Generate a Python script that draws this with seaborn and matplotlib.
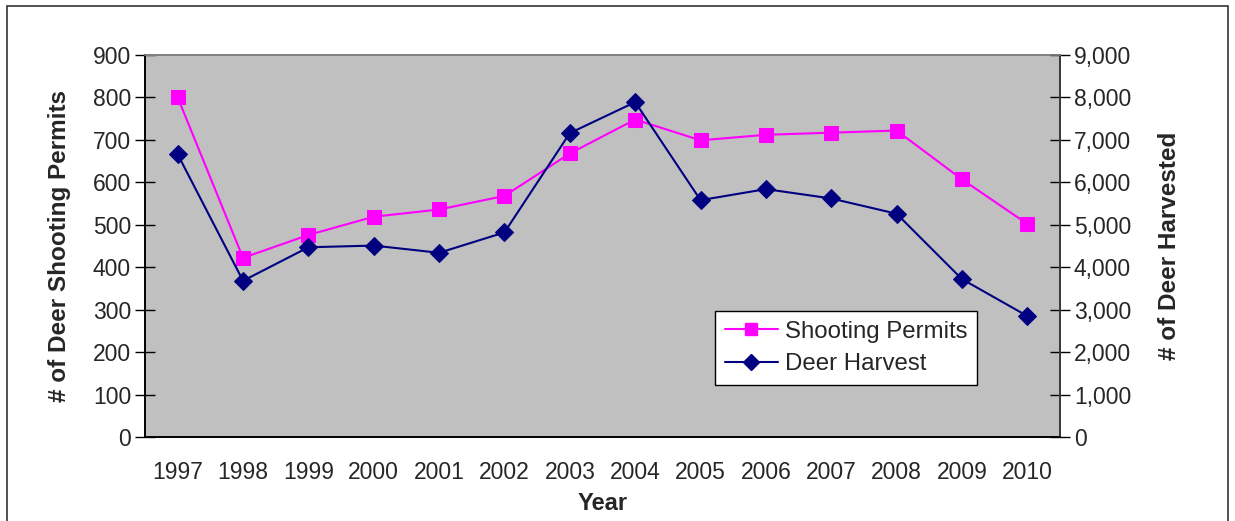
import matplotlib
matplotlib.use("Agg")
import matplotlib.pyplot as plt
import seaborn as sns
import pandas as pd
import numpy as np
from matplotlib.patches import Rectangle
from matplotlib.lines import Line2D
from matplotlib.ticker import FuncFormatter, FixedLocator

years = ["1997", "1998", "1999", "2000", "2001", "2002", "2003",
         "2004", "2005", "2006", "2007", "2008", "2009", "2010"]
shooting_permits = [800, 422, 476, 519, 536, 568, 668, 748, 699, 712, 717, 722, 607, 502]
deer_harvest = [6660, 3680, 4470, 4510, 4340, 4820, 7160, 7890, 5580, 5840, 5620, 5260, 3720, 2850]

sns.set_style("white")
plt.rcParams["font.family"] = ["Liberation Sans", "DejaVu Sans"]

df = pd.DataFrame({"pos": np.arange(len(years)), "year": years,
                   "permits": shooting_permits, "harvest": deer_harvest})

fig = plt.figure(figsize=(12.35, 5.21), dpi=100)
ax = fig.add_axes([145/1235, 84/521, 915/1235, 382/521])
ax.set_facecolor("#C0C0C0")

sns.lineplot(data=df, x="pos", y="permits", ax=ax, color="#FF00FF", marker="s",
             markersize=10, markeredgecolor="#FF00FF", linewidth=1.5)
ax2 = ax.twinx()
sns.lineplot(data=df, x="pos", y="harvest", ax=ax2, color="#000080", marker="D",
             markersize=9, markeredgecolor="#000080", linewidth=1.5)

ax.set_xlim(-0.5, len(years) - 0.5)
ax.set_ylim(0, 900)
ax2.set_ylim(0, 9000)
ax.set_yticks(np.arange(0, 901, 100))
ax2.set_yticks(np.arange(0, 9001, 1000))
ax2.yaxis.set_major_formatter(FuncFormatter(lambda v, p: f"{int(v):,}"))

ax.set_xticks(np.arange(len(years)))
ax.set_xticklabels(years)
ax.xaxis.set_minor_locator(FixedLocator(np.arange(-0.5, len(years), 1.0)))
ax.tick_params(axis="x", which="major", length=0, pad=17, labelsize=16.5)
ax.tick_params(axis="x", which="minor", direction="inout", length=14, width=1, color="black")
ax.tick_params(axis="y", direction="inout", length=14, width=1, color="black", labelsize=16.5, pad=3,
               left=True)
ax2.tick_params(axis="y", direction="inout", length=14, width=1, color="black", labelsize=16.5, pad=3,
                right=True)

for a in (ax, ax2):
    for s in a.spines.values():
        s.set_visible(True)
        s.set_linewidth(1.2)
        s.set_color("black")
    a.spines["top"].set_color("#808080")
ax2.spines["right"].set_color("#404040")
ax2.patch.set_visible(False)

ax.set_xlabel("Year", fontsize=17, fontweight="bold", labelpad=6)
ax.set_ylabel("# of Deer Shooting Permits", fontsize=17.5, fontweight="bold", labelpad=16)
ax2.set_ylabel("# of Deer Harvested", fontsize=17.5, fontweight="bold", labelpad=19)
ax.grid(False)
ax2.grid(False)

handles = [Line2D([], [], color="#FF00FF", marker="s", markersize=9, linewidth=1.5),
           Line2D([], [], color="#000080", marker="D", markersize=8, linewidth=1.5)]
leg = ax2.legend(handles, ["Shooting Permits", "Deer Harvest"], loc="upper left",
                 bbox_to_anchor=(0.623, 0.330), borderaxespad=0, fontsize=17.3,
                 frameon=True, fancybox=False, framealpha=1, edgecolor="black",
                 handlelength=2.2, handletextpad=0.3, borderpad=0.4, labelspacing=0.45)
leg.get_frame().set_linewidth(1)

fig.patches.append(Rectangle((7/1235, -0.01), 1221/1235, 1 - 6/521 + 0.01,
                             transform=fig.transFigure, fill=False,
                             edgecolor="#333333", linewidth=1.2))

fig.savefig("out.png", dpi=100)
